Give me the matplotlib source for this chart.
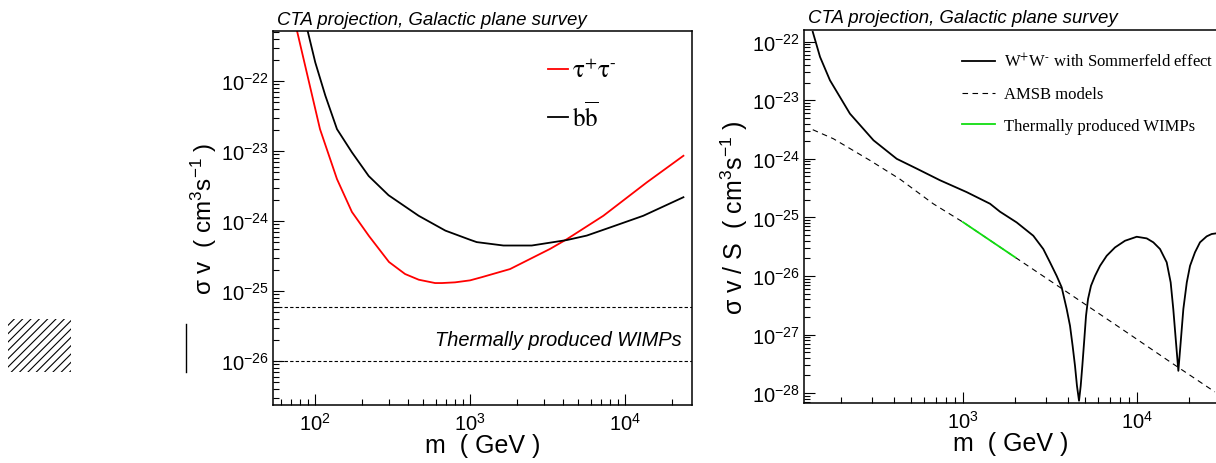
import numpy as np
import matplotlib
matplotlib.use("Agg")
import matplotlib.pyplot as plt
from matplotlib.patches import Rectangle
from matplotlib.lines import Line2D
from matplotlib.ticker import LogLocator, NullFormatter, FixedLocator

# ---- left panel: CTA GPS limits
tau_m = [70, 76.6, 107.7, 138.6, 173, 223, 300, 381, 467, 595, 659,
         800, 1000, 1194, 1811, 3282, 4207, 7240, 13800, 23770]
tau_sv = [1.2e-21, 5.2e-22, 2.06e-23, 3.98e-24, 1.35e-24, 6.1e-25, 2.6e-25,
          1.75e-25, 1.45e-25, 1.3e-25, 1.3e-25, 1.33e-25, 1.42e-25, 1.58e-25,
          2.06e-25, 4.0e-25, 5.5e-25, 1.19e-24, 3.57e-24, 8.57e-24]

bb_m = [85, 100.4, 116.6, 138.6, 173, 222, 298, 466, 693, 1000, 1104, 1641, 2500,
        4207, 5660, 8000, 13100, 23770]
bb_sv = [8.5e-22, 1.85e-22, 6.2e-23, 2.06e-23, 9.6e-24, 4.4e-24, 2.34e-24, 1.19e-24,
         7.3e-25, 5.4e-25, 5.0e-25, 4.47e-25, 4.47e-25, 5.35e-25, 6.2e-25, 8.1e-25,
         1.19e-24, 2.19e-24]

thermal_band = [6e-26, 1e-26]

# ---- right panel: sigma v / S
ww_m = [137, 150.8, 172, 224, 306, 416, 542, 738, 1050, 1430, 1632, 2035, 2535,
        2894, 3162, 3455, 3690, 3944, 4121, 4266, 4402, 4518, 4643, 4747, 4850,
        4980, 5093, 5230, 5440, 5735, 6130, 6695, 7473, 8531, 9960, 11370, 12410,
        13560, 14810, 15610, 16160, 16750, 17280, 17820, 18460, 19320, 20170,
        21530, 23010, 25130, 26840, 28440]
ww_sv = [1.47e-22, 5.5e-23, 2.19e-23, 5.9e-24, 2.07e-24, 1.0e-24, 6.8e-25, 4.3e-25,
         2.7e-25, 1.71e-25, 1.25e-25, 8.2e-26, 4.86e-26, 2.88e-26, 1.71e-26, 1.0e-26,
         6.4e-27, 2.72e-27, 1.41e-27, 6.4e-28, 2.92e-28, 1.33e-28, 7.4e-29, 1.33e-28,
         2.92e-28, 8.36e-28, 2.09e-27, 4.04e-27, 6.8e-27, 1.0e-26, 1.49e-26, 2.21e-26,
         3.07e-26, 3.99e-26, 4.67e-26, 4.38e-26, 3.75e-26, 2.88e-26, 1.71e-26,
         7.76e-27, 2.72e-27, 7.35e-28, 2.4e-28, 7.35e-28, 2.72e-27, 7.76e-27,
         1.49e-26, 2.53e-26, 3.75e-26, 4.74e-26, 5.2e-26, 5.33e-26]

amsb_m = [137, 180, 292, 434, 674, 1000, 2000, 4000, 8000, 16000, 28000]
amsb_sv = [3.14e-24, 2.2e-24, 9.4e-25, 4.5e-25, 1.71e-25, 8.3e-26, 2.07e-26,
           5.2e-27, 1.3e-27, 3.2e-28, 1.05e-28]

green_m = [1000, 2000]
green_sv = [8.3e-26, 2.07e-26]

title = "CTA projection, Galactic plane survey"

W, H = 1216, 464
plt.rcParams["font.family"] = ["Liberation Sans", "DejaVu Sans"]
plt.rcParams["mathtext.fontset"] = "custom"
plt.rcParams["mathtext.rm"] = "Liberation Sans"
plt.rcParams["mathtext.it"] = "Liberation Sans:italic"
plt.rcParams["mathtext.bf"] = "Liberation Sans:bold"
plt.rcParams["hatch.linewidth"] = 0.8


def fx(px):
    return px / W


def fy(py):
    return 1 - py / H


def decades(lo, hi):
    # major ticks only inside the shown range
    return 10.0 ** np.arange(np.ceil(np.log10(lo)), np.floor(np.log10(hi)) + 1)


def root_style(ax, xlim, ylim):
    ax.set_xscale("log")
    ax.set_yscale("log")
    for s in ax.spines.values():
        s.set_linewidth(1.1)
    ax.tick_params(which="both", direction="in", top=False, right=False,
                   labelsize=14.5, width=0.8)
    ax.tick_params(which="major", length=8)
    ax.tick_params(which="minor", length=4.5)
    ax.tick_params(axis="y", pad=3)
    ax.tick_params(axis="x", pad=5)
    ax.xaxis.set_major_locator(FixedLocator(decades(*xlim)))
    ax.yaxis.set_major_locator(FixedLocator(decades(*ylim)))
    ax.yaxis.set_minor_locator(LogLocator(subs=np.arange(2, 10), numticks=50))
    ax.xaxis.set_minor_locator(LogLocator(subs=np.arange(2, 10), numticks=50))
    ax.xaxis.set_minor_formatter(NullFormatter())
    ax.yaxis.set_minor_formatter(NullFormatter())
    ax.set_xlim(*xlim)
    ax.set_ylim(*ylim)


fig = plt.figure(figsize=(W / 100, H / 100), dpi=100)

# left
ax1 = fig.add_axes([fx(273), fy(406), fx(692) - fx(273), fy(32) - fy(406)])
root_style(ax1, (53.6, 27000), (2.35e-27, 5.2e-22))
ax1.plot(tau_m, tau_sv, color="#ff0000", lw=1.3,
         label=r"$\mathrm{\tau}^{+}\mathrm{\tau}^{\text{-}}$")
ax1.plot(bb_m, bb_sv, color="black", lw=1.3, label=r"$\mathrm{b\overline{b}}$")
for v in thermal_band:
    ax1.axhline(v, color="black", lw=0.8, ls=(0, (3, 2)))
ax1.text(0.976, 0.176, "Thermally produced WIMPs", transform=ax1.transAxes,
         ha="right", va="center", fontsize=14.4, style="italic")
ax1.set_xlabel("m  ( GeV )", fontsize=18)
ax1.set_ylabel("σ v  ( cm$^{3}$s$^{-1}$ )", fontsize=17.5)
ax1.xaxis.set_label_coords(0.5, -0.074)
ax1.yaxis.set_label_coords((219 - 273) / 419, 0.5)
ax1.legend(loc="upper left", bbox_to_anchor=(fx(548), fy(60)),
           bbox_transform=fig.transFigure, frameon=False, borderpad=0,
           borderaxespad=0, handlelength=0.8, handletextpad=0.15,
           labelspacing=0.75, prop={"family": "serif", "size": 18,
                                    "math_fontfamily": "stix"})
fig.text(fx(277), fy(25), title, fontsize=13.4, style="italic", va="baseline")

# right
ax2 = fig.add_axes([fx(804), fy(404.3), fx(1218) - fx(804), fy(30.7) - fy(404.3)])
root_style(ax2, (122, 29200), (6.7e-29, 1.6e-22))
ax2.plot(ww_m, ww_sv, color="black", lw=1.3,
         label=r"W$^{+}$W$^{\text{-}}$ with Sommerfeld effect")
ax2.plot(amsb_m, amsb_sv, color="black", lw=0.8, ls=(0, (5, 4)), label="AMSB models")
ax2.plot(green_m, green_sv, color="#11dd11", lw=1.3, label="Thermally produced WIMPs")
ax2.set_xlabel("m  ( GeV )", fontsize=18)
ax2.set_ylabel("σ v / S  ( cm$^{3}$s$^{-1}$ )", fontsize=18)
ax2.xaxis.set_label_coords(0.5, -0.074)
ax2.yaxis.set_label_coords((750 - 804) / 414, 0.5)
ax2.legend(loc="upper left", bbox_to_anchor=(fx(962), fy(53)),
           bbox_transform=fig.transFigure, frameon=False, borderpad=0,
           borderaxespad=0, handlelength=2.0, handletextpad=0.5,
           labelspacing=0.95, prop={"family": "Liberation Serif", "size": 12,
                                    "math_fontfamily": "stix"})
fig.text(fx(808), fy(23), title, fontsize=13.4, style="italic", va="baseline")

# stray legend pieces at far left
fig.patches.append(Rectangle((fx(8), fy(373)), fx(71) - fx(8), fy(320) - fy(373),
                             transform=fig.transFigure, fill=False, hatch="////",
                             lw=0, edgecolor="black"))
fig.lines.append(Line2D([fx(186), fx(186)], [fy(373), fy(325)],
                        transform=fig.transFigure, color="black", lw=1.0))

fig.savefig("out.png", dpi=100)
